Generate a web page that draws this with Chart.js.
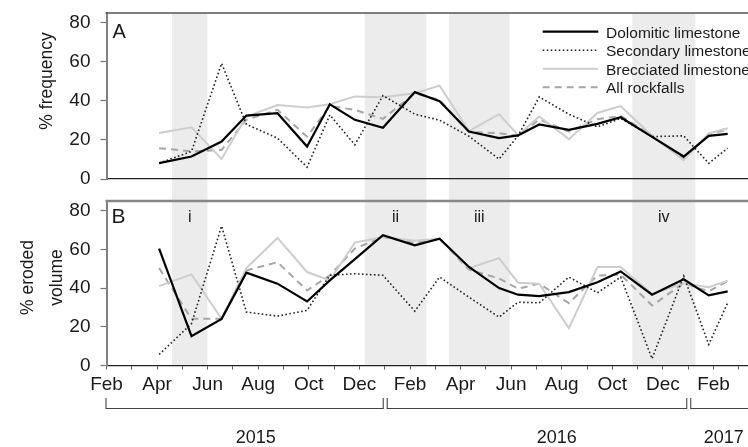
<!DOCTYPE html>
<html><head><meta charset="utf-8">
<script src="https://cdn.jsdelivr.net/npm/chart.js@4/dist/chart.umd.min.js"></script>
<style>
html,body{margin:0;padding:0;background:#fff;overflow:hidden;width:748px;height:447px;}
#wrap{position:relative;width:748px;height:447px;overflow:hidden;}
canvas{position:absolute;left:0;}
#c1{top:0}
#c2{top:190px}
</style></head><body>
<div id="wrap"><canvas id="c1" width="760" height="190"></canvas><canvas id="c2" width="760" height="257"></canvas></div>
<script>
// survey dates, in months after 1 Feb 2015
const surveyMonth = [2.08, 3.36, 4.55, 5.53, 6.76, 7.93, 8.83, 9.82, 10.93, 12.19, 13.17, 14.33, 15.52, 16.27, 17.11, 18.28, 19.41, 20.33, 21.57, 22.82, 23.81, 24.56];
const seriesNames = ['Dolomitic limestone', 'Secondary limestone', 'Brecciated limestone', 'All rockfalls'];

// Panel A: % frequency
const freqDolomitic  = [8.1, 11.5, 19.2, 32.5, 33.7, 16.6, 38.3, 30.3, 26.2, 44.5, 39.8, 24.3, 20.9, 22.3, 27.9, 25.2, 28.2, 31.6, 21.6, 11.5, 22.1, 23.1];
const freqSecondary  = [8.1, 14.1, 59.2, 28.0, 20.9, 6.1, 32.8, 17.5, 42.7, 33.2, 30.1, 21.9, 10.2, 22.1, 42.0, 33.2, 26.7, 31.0, 21.7, 22.1, 8.0, 15.8];
const freqBrecciated = [23.5, 26.5, 10.3, 32.0, 37.9, 36.6, 38.3, 42.3, 41.9, 43.9, 47.8, 24.5, 33.2, 22.4, 32.0, 20.4, 33.8, 37.3, 22.1, 9.6, 23.3, 26.0];
const freqAll        = [15.8, 14.1, 14.9, 30.3, 35.4, 21.7, 37.4, 35.4, 30.8, 43.9, 40.5, 24.0, 23.5, 22.1, 30.5, 24.3, 30.6, 32.3, 22.1, 10.3, 23.1, 25.2];

// Panel B: % eroded volume
const volDolomitic  = [60.4, 15.2, 24.1, 48.0, 42.3, 33.1, 44.0, 55.0, 67.3, 62.1, 65.5, 50.9, 40.0, 36.6, 35.9, 37.9, 43.0, 48.6, 36.6, 44.5, 36.2, 38.3];
const volSecondary  = [5.7, 21.6, 72.1, 27.6, 25.5, 28.5, 46.6, 47.4, 46.6, 28.1, 45.7, 35.3, 25.0, 32.7, 32.4, 45.7, 37.6, 45.7, 3.5, 46.2, 10.9, 32.4];
const volBrecciated = [41.0, 47.1, 24.1, 50.3, 65.9, 48.3, 44.0, 63.5, 66.4, 64.5, 65.5, 50.3, 55.5, 42.8, 42.3, 19.3, 50.9, 50.9, 37.0, 42.5, 40.5, 43.8];
const volAll        = [50.3, 24.1, 24.1, 49.1, 53.4, 38.8, 46.6, 60.4, 66.4, 63.3, 65.5, 49.5, 45.0, 39.7, 42.3, 32.2, 46.5, 47.0, 31.0, 42.5, 38.3, 43.6];

// axis ticks and annotations
const monthTickLabels = ['Feb','Apr','Jun','Aug','Oct','Dec','Feb','Apr','Jun','Aug','Oct','Dec','Feb'];
const yTicks = [0, 20, 40, 60, 80];
const bandStart = [2.59, 10.21, 13.54, 20.79];
const bandEnd   = [3.99, 12.65, 15.94, 23.28];
const bandLabels = ['i', 'ii', 'iii', 'iv'];
const yearLabels = ['2015', '2016', '2017'];
const yearStartMonth = [0, 11, 23];
const yearEndMonth = [11, 23, 25.6];
const yearLabelMonth = [5.9, 17.8, 24.4];

const FONT = '"Liberation Sans", Arial, Helvetica, sans-serif';
const TXT = '#1a1a1a';
const XMAX = 25.6;
const styles = [
  {borderColor:'#000000', borderWidth:2.2, borderDash:[]},
  {borderColor:'#222222', borderWidth:1.6, borderDash:[1.6,2.4]},
  {borderColor:'#cdcdcd', borderWidth:2, borderDash:[]},
  {borderColor:'#a6a6a6', borderWidth:2, borderDash:[7,5]}
];

function makeDatasets(arrs){
  return arrs.map((vals, i) => Object.assign({
    label: seriesNames[i],
    data: surveyMonth.map((m, j) => ({x: m, y: vals[j]})),
    pointRadius: 0, tension: 0, fill: false,
    borderCapStyle: 'butt', borderJoinStyle: 'miter'
  }, styles[i]));
}

function yScale(){
  return {
    min: 0, max: 85,
    afterBuildTicks: s => { s.ticks = yTicks.map(v => ({value: v})); },
    ticks: {font:{family:FONT, size:19}, color:TXT, padding:10},
    grid: {drawOnChartArea:false, drawTicks:true, tickLength:6, color:'#777', tickWidth:1.2},
    border: {display:true, color:'#808080', width:2},
    afterFit: s => { s.width = 106.5; s.paddingTop = 0; s.paddingBottom = 0; }
  };
}

function xScale(showLabels, h){
  return {
    type: 'linear', min: 0, max: XMAX,
    ticks: {
      display: showLabels, stepSize: 1, autoSkip: false, maxRotation: 0, includeBounds: false,
      font: {family:FONT, size:19}, color: TXT, padding: 4,
      callback: v => { const r = Math.round(v); return (Math.abs(v - r) < 1e-6 && r % 2 === 0 && monthTickLabels[r/2]) ? monthTickLabels[r/2] : ''; }
    },
    grid: {drawOnChartArea:false, drawTicks:showLabels, tickLength:4, color:'#555', tickWidth:1},
    border: {display:true, color:'#222', width:1.3},
    afterFit: s => { s.height = h; s.paddingLeft = 0; s.paddingRight = 0; }
  };
}

const bandsPlugin = (isTop) => ({
  id: 'bands',
  beforeDraw(chart){
    const {ctx, chartArea} = chart; const x = chart.scales.x;
    ctx.save(); ctx.fillStyle = '#ececec';
    for (let i = 0; i < bandStart.length; i++){
      const x0 = x.getPixelForValue(bandStart[i]), x1 = x.getPixelForValue(bandEnd[i]);
      const y0 = isTop ? chartArea.top : 0;
      const y1 = isTop ? chart.height : chartArea.bottom;
      ctx.fillRect(x0, y0, x1 - x0, y1 - y0);
    }
    ctx.restore();
  }
});

const frameTop = (color, w) => ({
  id: 'frameTop',
  afterDraw(chart){
    const {ctx, chartArea} = chart;
    ctx.save(); ctx.strokeStyle = color; ctx.lineWidth = w;
    ctx.beginPath(); ctx.moveTo(chartArea.left - 1, chartArea.top); ctx.lineTo(chart.width, chartArea.top); ctx.stroke();
    ctx.restore();
  }
});

const topDecor = {
  id: 'topDecor',
  afterDraw(chart){
    const ctx = chart.ctx;
    ctx.save();
    // legend
    chart.data.datasets.forEach((ds, i) => {
      const y = 31.7 + 18.5 * i;
      ctx.strokeStyle = ds.borderColor; ctx.lineWidth = ds.borderWidth; ctx.setLineDash(ds.borderDash || []);
      ctx.beginPath(); ctx.moveTo(542.7, y); ctx.lineTo(598.3, y); ctx.stroke();
      ctx.setLineDash([]);
      ctx.fillStyle = TXT; ctx.font = '15.5px ' + FONT; ctx.textAlign = 'left'; ctx.textBaseline = 'alphabetic';
      ctx.fillText(ds.label, 606, y + 6);
    });
    // panel letter
    ctx.fillStyle = TXT; ctx.font = '20px ' + FONT; ctx.textAlign = 'left';
    ctx.fillText('A', 112.5, 38.3);
    // y title
    ctx.font = '17.5px ' + FONT; ctx.textAlign = 'center';
    ctx.translate(52, 81); ctx.rotate(-Math.PI/2); ctx.fillText('% frequency', 0, 0);
    ctx.restore();
  }
};

const bottomDecor = {
  id: 'bottomDecor',
  afterDraw(chart){
    const ctx = chart.ctx; const x = chart.scales.x;
    ctx.save();
    ctx.fillStyle = TXT;
    // band labels
    ctx.font = '16px ' + FONT; ctx.textAlign = 'center'; ctx.textBaseline = 'alphabetic';
    for (let i = 0; i < bandLabels.length; i++){
      const cx = (x.getPixelForValue(bandStart[i]) + x.getPixelForValue(bandEnd[i])) / 2;
      ctx.fillText(bandLabels[i], cx, 32);
    }
    // panel letter
    ctx.font = '21px ' + FONT; ctx.textAlign = 'left';
    ctx.fillText('B', 111.5, 33.3);
    // year brackets
    ctx.strokeStyle = '#444'; ctx.lineWidth = 1.1;
    for (let i = 0; i < yearLabels.length; i++){
      const xa = x.getPixelForValue(yearStartMonth[i]) + (i === 0 ? -1 : 2);
      const xb = x.getPixelForValue(yearEndMonth[i]) - 2;
      ctx.beginPath();
      ctx.moveTo(xa + 0.5, 208); ctx.lineTo(xa + 0.5, 218.5); ctx.lineTo(xb + 0.5, 218.5);
      if (yearEndMonth[i] < XMAX) ctx.lineTo(xb + 0.5, 208);
      ctx.stroke();
      ctx.font = '18px ' + FONT; ctx.textAlign = 'center';
      ctx.fillText(yearLabels[i], x.getPixelForValue(yearLabelMonth[i]), 253);
    }
    // y title (two lines)
    ctx.font = '17.5px ' + FONT; ctx.textAlign = 'center';
    ctx.save(); ctx.translate(33, 87.5); ctx.rotate(-Math.PI/2); ctx.fillText('% eroded', 0, 0); ctx.restore();
    ctx.save(); ctx.translate(61.5, 87.5); ctx.rotate(-Math.PI/2); ctx.fillText('volume', 0, 0); ctx.restore();
    ctx.restore();
  }
};

const common = {
  responsive: false, animation: false, devicePixelRatio: 1, events: [],
  plugins: {legend: {display:false}, tooltip: {enabled:false}}
};

new Chart(document.getElementById('c1'), {
  type: 'line',
  data: {datasets: makeDatasets([freqDolomitic, freqSecondary, freqBrecciated, freqAll])},
  options: Object.assign({}, common, {
    layout: {padding: {left:0, right:6, top:13, bottom:11}},
    scales: {x: xScale(false, 0), y: yScale()}
  }),
  plugins: [bandsPlugin(true), frameTop('#555', 1.6), topDecor]
});

new Chart(document.getElementById('c2'), {
  type: 'line',
  data: {datasets: makeDatasets([volDolomitic, volSecondary, volBrecciated, volAll])},
  options: Object.assign({}, common, {
    layout: {padding: {left:0, right:6, top:11, bottom:0}},
    scales: {x: xScale(true, 81.5), y: yScale()}
  }),
  plugins: [bandsPlugin(false), frameTop('#888', 2.5), bottomDecor]
});
</script>
</body></html>
